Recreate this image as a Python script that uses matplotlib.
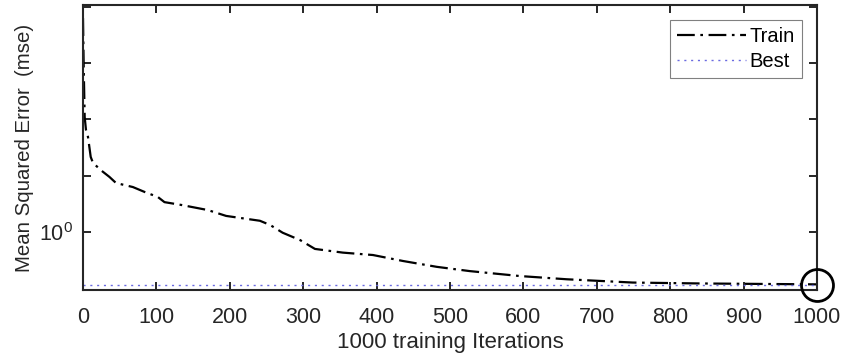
import matplotlib
matplotlib.use("Agg")
import matplotlib.pyplot as plt
from matplotlib.ticker import NullLocator, FixedLocator, FixedFormatter

plt.rcParams['font.family'] = ['Liberation Sans', 'DejaVu Sans']
plt.rcParams['mathtext.fontset'] = 'custom'
plt.rcParams['mathtext.rm'] = 'Liberation Sans'
plt.rcParams['mathtext.it'] = 'Liberation Sans'
plt.rcParams['mathtext.default'] = 'regular'

# Data
iterations = [0, 1, 2.3, 4, 6.8, 10.5, 13.6, 25, 36, 45, 68, 84, 102, 111, 134, 170,
              195, 241, 255, 272, 296, 316, 354, 395, 436, 482, 527, 595, 659, 749, 840, 1000]
train_mse = [2.40, 1.95, 1.60, 1.52, 1.475, 1.359, 1.326, 1.285, 1.252, 1.221, 1.201, 1.177,
             1.153, 1.129, 1.116, 1.093, 1.067, 1.046, 1.028, 0.996, 0.966, 0.932, 0.918,
             0.909, 0.887, 0.866, 0.851, 0.834, 0.823, 0.812, 0.809, 0.806]
best_mse = 0.805
best_epoch = 1000
x_ticks = [0, 100, 200, 300, 400, 500, 600, 700, 800, 900, 1000]
y_ticks = [10 ** (k * 0.1) for k in range(5)]
y_tick_labels = [r'$10^{0}$', '', '', '', '']
y_limits = (10 ** -0.1037, 10 ** 0.4036)

dark = '#262626'

fig = plt.figure(figsize=(8.45, 3.56), dpi=100)
ax = fig.add_axes([83 / 845, 1 - 290 / 356, (817 - 83) / 845, (290 - 5) / 356])

ax.plot(iterations, train_mse, color='black', lw=1.6,
        linestyle=(0, (8.0, 2.5, 1.2, 2.5)), label='Train')
ax.axhline(best_mse, color='#6a6ae0', lw=1.0, linestyle=(0, (1.5, 3.4)), label='Best')
ax.plot([best_epoch], [best_mse], marker='o', markersize=23, markerfacecolor='none',
        markeredgecolor='black', markeredgewidth=2.0, clip_on=False, zorder=5)

ax.set_yscale('log')
ax.set_xlim(0, 1000)
ax.set_ylim(*y_limits)
ax.yaxis.set_major_locator(FixedLocator(y_ticks))
ax.yaxis.set_major_formatter(FixedFormatter(y_tick_labels))
ax.yaxis.set_minor_locator(NullLocator())
ax.set_xticks(x_ticks)

ax.tick_params(axis='both', which='major', direction='in', length=6, width=1.4,
               colors=dark, labelsize=15.5, top=True, right=True)
ax.tick_params(axis='x', pad=12)
ax.tick_params(axis='y', pad=7)
for sp in ax.spines.values():
    sp.set_color(dark)
    sp.set_linewidth(1.5)

ax.set_xlabel('1000 training Iterations', fontsize=16, color=dark, labelpad=3)
ax.set_ylabel('Mean Squared Error  (mse)', fontsize=14.7, color=dark, labelpad=4)

leg = ax.legend(loc='upper right', fontsize=14.5, handlelength=3.4, handletextpad=0.2,
                labelspacing=0.28, borderpad=0.35, borderaxespad=0.75, fancybox=False,
                framealpha=1, edgecolor='#808080')
leg.get_frame().set_linewidth(0.8)

fig.savefig('out.png', dpi=100)
